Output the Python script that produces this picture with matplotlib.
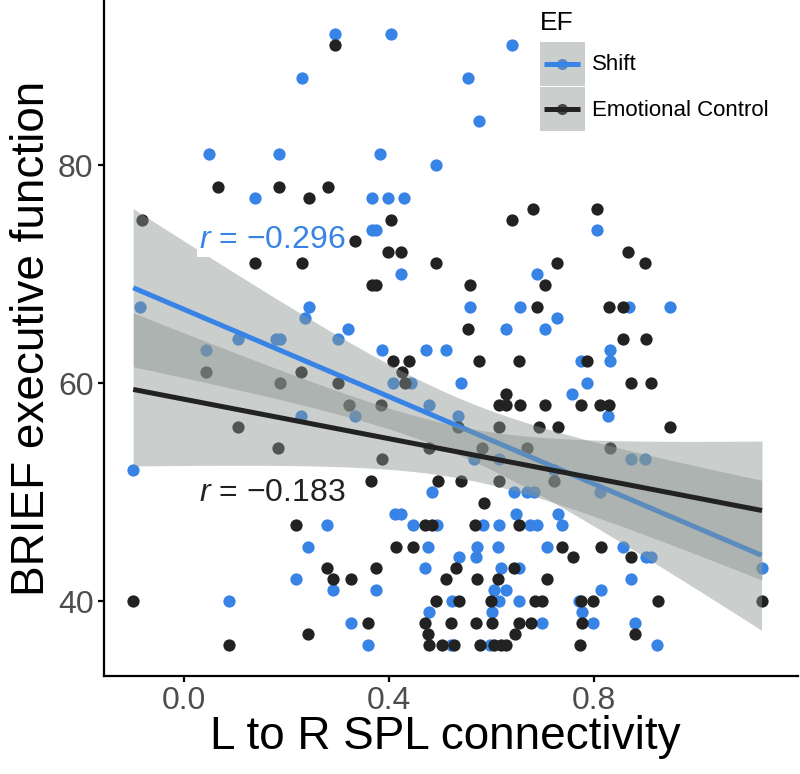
import numpy as np
import matplotlib
matplotlib.use("Agg")
import matplotlib.pyplot as plt
from matplotlib.patches import Rectangle
from matplotlib.lines import Line2D

# ── Data ──────────────────────────────────────────────────────────────────────

# Shift (blue): connectivity x, BRIEF score y
shift_x = [0.295, 0.405, 0.641, 0.231, 0.555, 0.576, 0.049, 0.185, 0.383, 0.492,
           0.139, 0.367, 0.398, 0.430, 0.067, 0.282, 0.367, 0.375, 0.806, 0.424,
           0.688, -0.085, 0.244, 0.559, 0.655, 0.868, 0.948, 0.236, 0.727, 0.320,
           0.628, 0.704, 0.106, 0.180, 0.187, 0.300, 0.044, 0.387, 0.472, 0.511,
           0.831, 0.774, 0.831, 0.407, 0.443, 0.540, 0.787, 0.758, 0.478, 0.229,
           0.333, 0.534, 0.828, 0.566, 0.615, 0.872, 0.899, -0.099, 0.722, 0.485,
           0.644, 0.670, 0.683, 0.812, 0.411, 0.424, 0.648, 0.729, 0.280, 0.446,
           0.494, 0.583, 0.615, 0.675, 0.688, 0.737, 0.242, 0.476, 0.571, 0.613,
           0.708, 0.856, 0.537, 0.570, 0.901, 0.912, 0.471, 0.618, 0.654, 1.127,
           0.218, 0.873, 0.291, 0.375, 0.605, 0.628, 0.813, 0.088, 0.524, 0.615,
           0.654, 0.771, 0.479, 0.602, 0.776, 0.326, 0.699, 0.798, 0.880, 0.359,
           0.521, 0.598, 0.923]
shift_y = [92, 92, 91, 88, 88, 84, 81, 81, 81, 80,
           77, 77, 77, 77, 74, 74, 74, 74, 74, 70,
           70, 67, 67, 67, 67, 67, 67, 66, 66, 65,
           65, 65, 64, 64, 64, 64, 63, 63, 63, 63,
           63, 62, 62, 60, 60, 60, 60, 59, 58, 57,
           57, 57, 57, 53, 53, 53, 53, 52, 52, 50,
           50, 50, 50, 50, 48, 48, 48, 48, 47, 47,
           47, 47, 47, 47, 47, 47, 45, 45, 45, 45,
           45, 45, 44, 44, 44, 44, 43, 43, 43, 43,
           42, 42, 41, 41, 41, 41, 41, 40, 40, 40,
           40, 40, 39, 39, 39, 38, 38, 38, 38, 36,
           36, 36, 36]

# Emotional Control (black)
emo_x = [0.295, 0.067, 0.185, 0.282, 0.244, 0.681, 0.806, -0.082, 0.405, 0.641,
         0.333, 0.398, 0.424, 0.866, 0.139, 0.231, 0.492, 0.727, 0.899, 0.367,
         0.375, 0.559, 0.704, 0.688, 0.830, 0.856, 0.555, 0.856, 0.901, 0.407,
         0.439, 0.576, 0.654, 0.787, 0.044, 0.229, 0.426, 0.187, 0.300, 0.432,
         0.873, 0.912, 0.628, 0.323, 0.385, 0.614, 0.628, 0.655, 0.704, 0.775,
         0.811, 0.829, 0.106, 0.534, 0.615, 0.692, 0.729, 0.948, 0.184, 0.478,
         0.581, 0.669, 0.832, 0.387, 0.365, 0.495, 0.540, 0.615, 0.722, 0.586,
         0.218, 0.470, 0.484, 0.568, 0.653, 0.413, 0.446, 0.737, 0.813, 0.759,
         0.873, 0.280, 0.375, 0.531, 0.644, 0.291, 0.326, 0.512, 0.571, 0.613,
         0.708, -0.099, 0.492, 0.537, 0.599, 0.685, 0.699, 0.775, 0.798, 0.925,
         1.128, 0.359, 0.470, 0.522, 0.570, 0.602, 0.654, 0.678, 0.777, 0.242,
         0.476, 0.646, 0.880, 0.088, 0.478, 0.504, 0.527, 0.577, 0.605, 0.619,
         0.628, 0.772]
emo_y = [91, 78, 78, 78, 77, 76, 76, 75, 75, 75,
         73, 72, 72, 72, 71, 71, 71, 71, 71, 69,
         69, 69, 69, 67, 67, 67, 65, 64, 64, 62,
         62, 62, 62, 62, 61, 61, 61, 60, 60, 60,
         60, 60, 59, 58, 58, 58, 58, 58, 58, 58,
         58, 58, 56, 56, 56, 56, 56, 56, 54, 54,
         54, 54, 54, 53, 51, 51, 51, 51, 51, 49,
         47, 47, 47, 47, 47, 45, 45, 45, 45, 44,
         44, 43, 43, 43, 43, 42, 42, 42, 42, 42,
         42, 40, 40, 40, 40, 40, 40, 40, 40, 40,
         40, 38, 38, 38, 38, 38, 38, 38, 38, 37,
         37, 37, 37, 36, 36, 36, 36, 36, 36, 36,
         36, 36]

groups = ["Shift", "Emotional Control"]
r_labels = ["$r$ = \u22120.296", "$r$ = \u22120.183"]

# ── Style ─────────────────────────────────────────────────────────────────────

BLUE = "#3784E6"
DARK = "#222222"
KEY_DOT = {BLUE: "#5B87C2", DARK: "#474747"}
BAND = "#8A948E"
BAND_ALPHA = 0.45
T_CRIT = 1.98

plt.rcParams["font.family"] = ["Liberation Sans", "DejaVu Sans"]
plt.rcParams["mathtext.fontset"] = "custom"
plt.rcParams["mathtext.rm"] = "Liberation Sans"
plt.rcParams["mathtext.it"] = "Liberation Sans:italic"


def lm_band(x, y, n_pts=100):
    """Linear fit with 95% confidence band, like geom_smooth(method='lm')."""
    x = np.asarray(x, float)
    y = np.asarray(y, float)
    slope, icpt = np.polyfit(x, y, 1)
    resid = y - (icpt + slope * x)
    n = len(x)
    s = np.sqrt(np.sum(resid ** 2) / (n - 2))
    sxx = np.sum((x - x.mean()) ** 2)
    xs = np.linspace(x.min(), x.max(), n_pts)
    fit = icpt + slope * xs
    se = s * np.sqrt(1 / n + (xs - x.mean()) ** 2 / sxx)
    return xs, fit, fit - T_CRIT * se, fit + T_CRIT * se


class SmoothKey:
    """ggplot-like smooth key: grey se fill with the line and a dot in the middle."""
    def legend_artist(self, legend, orig_handle, fontsize, handlebox):
        col = orig_handle.get_color()
        x0, y0 = -handlebox.xdescent, -handlebox.ydescent
        w, h = handlebox.width, handlebox.height
        tr = handlebox.get_transform()
        bg = Rectangle((x0, y0), w, h, facecolor=BAND, alpha=BAND_ALPHA,
                       edgecolor="none", transform=tr)
        ym = y0 + h / 2
        ln = Line2D([x0 + 3, x0 + w - 3], [ym, ym], color=col, lw=3.6,
                    solid_capstyle="butt", transform=tr)
        dot = Line2D([x0 + w / 2], [ym], marker="o", markersize=8,
                     markeredgewidth=0, color=KEY_DOT[col], transform=tr)
        for a in (bg, dot, ln):
            handlebox.add_artist(a)
        return ln


fig = plt.figure(figsize=(8.0, 7.74), dpi=100)
ax = fig.add_axes([0.13, 0.1266, 0.868, 0.8734])

# points first, smooths on top
ax.scatter(shift_x, shift_y, s=78, color=BLUE, linewidths=0, zorder=2)
ax.scatter(emo_x, emo_y, s=78, color=DARK, linewidths=0, zorder=2)

z = 3
fit_lines = []
for xs_, ys_, col in [(shift_x, shift_y, BLUE), (emo_x, emo_y, DARK)]:
    xs, fit, lo, hi = lm_band(xs_, ys_)
    ax.fill_between(xs, lo, hi, color=BAND, alpha=BAND_ALPHA, lw=0, zorder=z)
    ln, = ax.plot(xs, fit, color=col, lw=3.6, solid_capstyle="butt", zorder=z + 1)
    fit_lines.append(ln)
    z += 2

bbox = dict(facecolor="white", edgecolor="none", pad=1.5)
ax.text(0.030, 73.1, r_labels[0], color=BLUE, fontsize=23, va="center",
        ha="left", bbox=bbox, zorder=10)
ax.text(0.030, 49.9, r_labels[1], color=DARK, fontsize=23, va="center",
        ha="left", bbox=bbox, zorder=10)

# ── Axes ──────────────────────────────────────────────────────────────────────

ax.set_xlim(-0.156, 1.199)
ax.set_ylim(33.12, 95.14)
ax.set_xticks([0.0, 0.4, 0.8])
ax.set_xticklabels(["0.0", "0.4", "0.8"])
ax.set_yticks([40, 60, 80])
for side in ["top", "right"]:
    ax.spines[side].set_visible(False)
for side in ["left", "bottom"]:
    ax.spines[side].set_linewidth(1.6)
    ax.spines[side].set_color("black")
ax.tick_params(axis="both", length=4.5, width=1.6, color="black",
               labelsize=23, labelcolor="#4D4D4D", pad=3)
ax.set_xlabel("L to R SPL connectivity", fontsize=33, labelpad=3)
ax.set_ylabel("BRIEF executive function", fontsize=33, labelpad=3)
ax.xaxis.set_label_coords(0.492, -0.057)

# ── Legend ────────────────────────────────────────────────────────────────────

leg = ax.legend(fit_lines, groups, title="EF", loc="upper left",
                bbox_to_anchor=(0.628, 0.984), frameon=False, fontsize=16,
                title_fontsize=19, handlelength=2.0, handleheight=2.67,
                handletextpad=0.35, labelspacing=0.05, borderpad=0,
                borderaxespad=0, alignment="left",
                handler_map={Line2D: SmoothKey()})
leg._legend_box.sep = 5  # a bit of air between "EF" and the keys

fig.savefig("out.png", dpi=100)
